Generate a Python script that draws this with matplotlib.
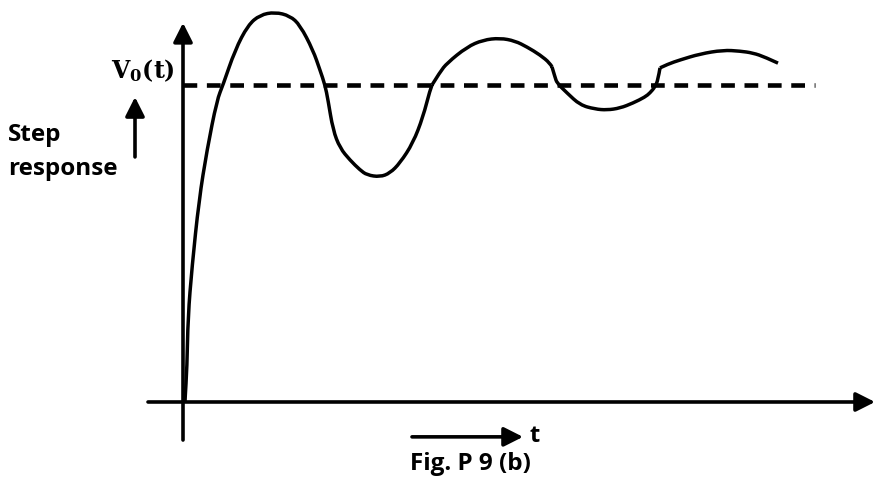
import matplotlib.pyplot as plt
from matplotlib.path import Path
from matplotlib.patches import PathPatch

# step response curve (t in arbitrary units, v normalised to final value = 1)
t = [0.02, 0.02, 0.04, 0.05, 0.09, 0.16, 0.24, 0.34, 0.40, 0.52, 0.65, 0.77, 0.92,
     1.07, 1.17, 1.30, 1.37, 1.42, 1.45, 1.50, 1.57, 1.67, 1.77, 1.84, 1.97,
     2.07, 2.17, 2.30, 2.40, 2.47, 2.49, 2.57, 2.64, 2.84, 3.00, 3.17, 3.32,
     3.44, 3.57, 3.67, 3.69, 3.72, 3.74, 3.84, 3.97, 4.12, 4.24, 4.37, 4.50,
     4.62, 4.67, 4.72, 4.75, 4.77, 4.85, 4.97, 5.17, 5.40, 5.57, 5.70, 5.82, 5.95]
v = [0.000, 0.006, 0.110, 0.268, 0.426, 0.637, 0.795, 0.953, 1.000, 1.110, 1.189, 1.221, 1.230,
     1.218, 1.189, 1.110, 1.047, 1.000, 0.953, 0.858, 0.801, 0.763, 0.732, 0.716, 0.710,
     0.722, 0.754, 0.817, 0.899, 0.984, 1.000, 1.041, 1.069, 1.120, 1.142, 1.148, 1.139,
     1.120, 1.095, 1.069, 1.057, 1.025, 1.006, 0.975, 0.937, 0.924, 0.921, 0.927, 0.943,
     0.962, 0.975, 0.994, 1.016, 1.054, 1.066, 1.079, 1.098, 1.110, 1.107, 1.101, 1.088, 1.069]
kinks = [30, 40, 53]  # sharp corners in the hand-drawn curve

v_final = 1.0
t_dash_end = 6.32

plt.rcParams['mathtext.fontset'] = 'dejavuserif'

fig = plt.figure(figsize=(8.75, 4.82), dpi=100)
ax = fig.add_axes([0, 0, 1, 1])
ax.set_xlim(-1.83, 6.92)
ax.set_ylim(-0.2524, 1.2681)
ax.axis('off')

def arrow(x0, y0, x1, y1, lw=2.6):
    ax.annotate('', xy=(x1, y1), xytext=(x0, y0),
                arrowprops=dict(arrowstyle='-|>,head_length=1.15,head_width=0.58',
                                mutation_scale=10, lw=lw, color='black',
                                shrinkA=0, shrinkB=0))

def smooth_path(pts):
    # quadratic b-spline through the read points, drawn as bezier segments
    verts, codes = [pts[0]], [Path.MOVETO]
    for i in range(1, len(pts) - 1):
        end = pts[-1] if i == len(pts) - 2 else ((pts[i][0] + pts[i+1][0]) / 2, (pts[i][1] + pts[i+1][1]) / 2)
        verts += [pts[i], end]
        codes += [Path.CURVE3, Path.CURVE3]
    return verts, codes

# axes
arrow(0, -0.12, 0, 1.196)
arrow(-0.35, 0, 6.92, 0)

# steady-state level
ax.plot([0, t_dash_end], [v_final, v_final], color='black', lw=3.3,
        dashes=(3.0, 2.1), solid_capstyle='butt')

# response
pts = list(zip(t, v))
bounds = [0] + kinks + [len(pts) - 1]
verts, codes = [], []
for a, b in zip(bounds[:-1], bounds[1:]):
    vv, cc = smooth_path(pts[a:b + 1])
    verts += vv
    codes += cc
ax.add_patch(PathPatch(Path(verts, codes), fill=False, lw=2.5, color='black', joinstyle='round'))

# labels
ax.text(-0.08, 1.022, r'$\mathbf{V_0(t)}$', fontsize=17, ha='right', va='baseline')
ax.text(-1.75, 0.823, 'Step', fontsize=17.5, fontweight='bold', family='Open Sans', va='baseline')
ax.text(-1.75, 0.716, 'response', fontsize=17.5, fontweight='bold', family='Open Sans', va='baseline')
arrow(-0.48, 0.773, -0.48, 0.962)

arrow(2.29, -0.110, 3.40, -0.110)
ax.text(3.47, -0.126, 't', fontsize=17, fontweight='bold', family='Open Sans', va='baseline')
ax.text(2.27, -0.215, 'Fig. P 9 (b)', fontsize=17.5, fontweight='bold', family='Open Sans', va='baseline')

plt.savefig('out.png', dpi=100)
